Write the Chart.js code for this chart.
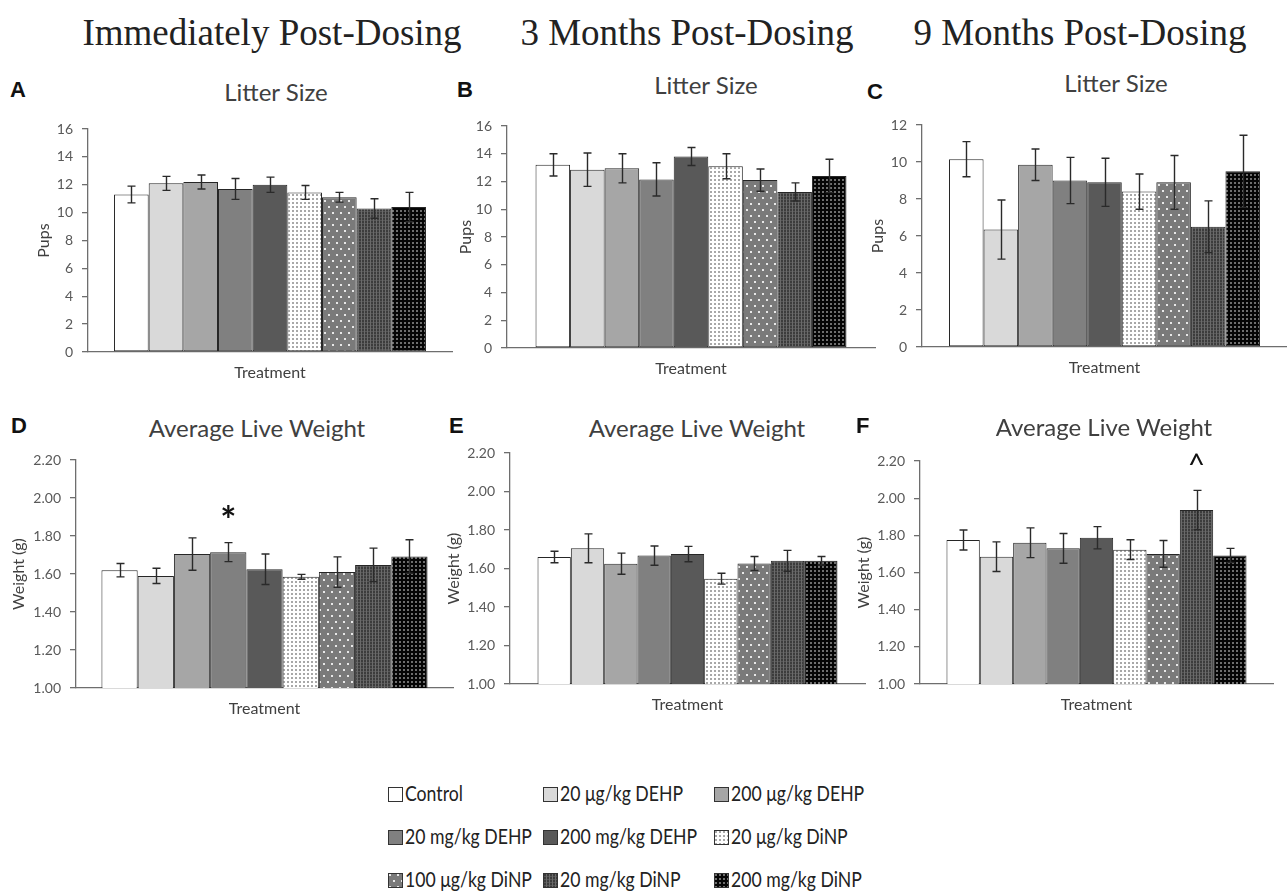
<!DOCTYPE html>
<html>
<head>
<meta charset="utf-8">
<script src="https://cdn.jsdelivr.net/npm/chart.js@4.4.1/dist/chart.umd.min.js"></script>
<style>
  body { margin: 0; background: #fff; width: 1287px; height: 894px; position: relative; overflow: hidden; font-family: Lato, sans-serif; }
  .head { position: absolute; top: 12px; font-family: 'Liberation Serif', serif; font-size: 37px; color: #222; transform: translateX(-50%); white-space: nowrap; line-height: 42px; }
  .letter { position: absolute; font-family: 'Liberation Sans', Arial, sans-serif; font-weight: bold; font-size: 22px; line-height: 22px; color: #111; }
  .ptitle { position: absolute; font-size: 24px; line-height: 24px; color: #404040; transform: translateX(-50%); white-space: nowrap; }
  canvas.chart { position: absolute; }
  .leg { position: absolute; display: flex; align-items: center; font-size: 21px; line-height: 30px; color: #222; white-space: nowrap; }
  .leg canvas { margin-right: 2px; margin-top: 2px; }
  .leg span { display: inline-block; transform: scaleX(0.84); transform-origin: left center; }
</style>
</head>
<body>
<div class="head" style="left:272px">Immediately Post-Dosing</div>
<div class="head" style="left:687px">3 Months Post-Dosing</div>
<div class="head" style="left:1080px">9 Months Post-Dosing</div>
<div id="panels"></div>
<div id="legend"></div>

<script>
// Treatment groups (one bar each, same order in every panel)
const treatments = [
  'Control', '20 μg/kg DEHP', '200 μg/kg DEHP',
  '20 mg/kg DEHP', '200 mg/kg DEHP', '20 μg/kg DiNP',
  '100 μg/kg DiNP', '20 mg/kg DiNP', '200 mg/kg DiNP'
];

// Litter size (pups), mean and error
const litterImmediate    = [11.3, 12.1, 12.2, 11.7, 12.0, 11.45, 11.1, 10.3, 10.4];
const litterImmediateErr = [0.6, 0.5, 0.5, 0.75, 0.55, 0.5, 0.35, 0.7, 1.05];
const litter3Months      = [13.2, 12.85, 12.95, 12.15, 13.8, 13.1, 12.1, 11.25, 12.4];
const litter3MonthsErr   = [0.8, 1.2, 1.05, 1.2, 0.65, 0.9, 0.8, 0.65, 1.2];
const litter9Months      = [10.15, 6.35, 9.85, 9.0, 8.9, 8.4, 8.9, 6.5, 9.5];
const litter9MonthsErr   = [0.95, 1.6, 0.85, 1.25, 1.3, 0.95, 1.45, 1.4, 1.95];

// Average live weight (g), mean and error
const weightImmediate    = [1.62, 1.59, 1.705, 1.715, 1.625, 1.585, 1.61, 1.648, 1.692];
const weightImmediateErr = [0.035, 0.04, 0.085, 0.05, 0.08, 0.013, 0.08, 0.088, 0.088];
const weight3Months      = [1.66, 1.705, 1.625, 1.667, 1.675, 1.547, 1.626, 1.64, 1.64];
const weight3MonthsErr   = [0.03, 0.075, 0.055, 0.05, 0.04, 0.028, 0.036, 0.054, 0.022];
const weight9Months      = [1.775, 1.685, 1.76, 1.73, 1.787, 1.723, 1.7, 1.936, 1.692];
const weight9MonthsErr   = [0.054, 0.08, 0.08, 0.08, 0.06, 0.053, 0.072, 0.106, 0.038];

// significance markers
const weightImmediateSig = ['', '', '', '*', '', '', '', '', ''];
const weight9MonthsSig   = ['', '', '', '', '', '', '', '^', ''];

// tick labels
const litterTicks16 = [0, 2, 4, 6, 8, 10, 12, 14, 16];
const litterTicks12 = [0, 2, 4, 6, 8, 10, 12];
const weightTicks   = [1.00, 1.20, 1.40, 1.60, 1.80, 2.00, 2.20];
const categoryLabel = ['Treatment'];

// fill style per treatment
const fills = ['#ffffff', '#d9d9d9', '#a6a6a6', '#808080', '#595959', 'dotsWhite', 'dotsGray', 'gridDark', 'dotsBlack'];

function makePattern(kind) {
  const c = document.createElement('canvas');
  const g = c.getContext('2d');
  if (kind === 'dotsWhite') {
    c.width = 4; c.height = 4;
    g.fillStyle = '#ffffff'; g.fillRect(0, 0, 4, 4);
    g.fillStyle = '#a8a8a8'; g.fillRect(1, 1, 2, 2);
  } else if (kind === 'dotsGray') {
    c.width = 8; c.height = 12;
    g.fillStyle = '#7a7a7a'; g.fillRect(0, 0, 8, 12);
    g.fillStyle = '#e8e8e8';
    g.fillRect(1, 1, 2, 2); g.fillRect(5, 7, 2, 2);
  } else if (kind === 'gridDark') {
    c.width = 3; c.height = 3;
    g.fillStyle = '#3c3c3c'; g.fillRect(0, 0, 3, 3);
    g.fillStyle = '#6a6a6a'; g.fillRect(0, 0, 1, 3);
    g.fillStyle = '#565656'; g.fillRect(1, 0, 2, 1);
  } else if (kind === 'dotsBlack') {
    c.width = 4; c.height = 4;
    g.fillStyle = '#050505'; g.fillRect(0, 0, 4, 4);
    g.fillStyle = '#6e6e6e'; g.fillRect(1, 1, 2, 2);
  }
  return g.createPattern(c, 'repeat');
}

function fillFor(i) {
  const f = fills[i];
  return f.charAt(0) === '#' ? f : makePattern(f);
}

// panel layout (pixel positions only)
const panels = [
  { letter: 'A', title: 'Litter Size', lx: 10, ly: 79, tx: 276, ty: 80, values: litterImmediate, errors: litterImmediateErr, ticks: litterTicks16, yTitle: 'Pups', x0: 31, plotL: 88, plotR: 452, plotT: 129, plotB: 352, cat: 0.857 },
  { letter: 'B', title: 'Litter Size', lx: 457, ly: 79, tx: 706, ty: 73, values: litter3Months, errors: litter3MonthsErr, ticks: litterTicks16, yTitle: 'Pups', x0: 453, plotL: 507, plotR: 875, plotT: 126, plotB: 348, cat: 0.845 },
  { letter: 'C', title: 'Litter Size', lx: 867, ly: 81, tx: 1116, ty: 71, values: litter9Months, errors: litter9MonthsErr, ticks: litterTicks12, yTitle: 'Pups', x0: 865, plotL: 922, plotR: 1287, plotT: 125, plotB: 347, cat: 0.852 },
  { letter: 'D', title: 'Average Live Weight', lx: 11, ly: 415, tx: 257, ty: 416, values: weightImmediate, errors: weightImmediateErr, ticks: weightTicks, yTitle: 'Weight (g)', sig: weightImmediateSig, x0: 6, plotL: 76, plotR: 453, plotT: 460, plotB: 688, cat: 0.865 },
  { letter: 'E', title: 'Average Live Weight', lx: 449, ly: 415, tx: 697, ty: 416, values: weight3Months, errors: weight3MonthsErr, ticks: weightTicks, yTitle: 'Weight (g)', x0: 441, plotL: 510, plotR: 865, plotT: 453, plotB: 684, cat: 0.845 },
  { letter: 'F', title: 'Average Live Weight', lx: 856, ly: 415, tx: 1104, ty: 415, values: weight9Months, errors: weight9MonthsErr, ticks: weightTicks, yTitle: 'Weight (g)', sig: weight9MonthsSig, x0: 851, plotL: 920, plotR: 1273, plotT: 461, plotB: 684, cat: 0.85 }
];

const errorBars = {
  id: 'errorBars',
  afterDatasetsDraw(chart) {
    const ctx = chart.ctx;
    const y = chart.scales.y;
    ctx.save();
    ctx.strokeStyle = '#2a2a2a';
    ctx.lineWidth = 1.4;
    chart.data.datasets.forEach((ds, i) => {
      const bar = chart.getDatasetMeta(i).data[0];
      const v = ds.data[0], e = ds.errors[0];
      const top = y.getPixelForValue(v + e);
      const bot = y.getPixelForValue(v - e);
      const x = Math.round(bar.x) + 0.5;
      ctx.beginPath();
      ctx.moveTo(x, top); ctx.lineTo(x, bot);
      ctx.moveTo(x - 4, top); ctx.lineTo(x + 4, top);
      ctx.moveTo(x - 4, bot); ctx.lineTo(x + 4, bot);
      ctx.stroke();
      if (ds.sig && ds.sig[0]) {
        const s = ds.sig[0];
        const size = s === '*' ? 38 : 30;
        ctx.fillStyle = '#111';
        ctx.font = (s === '*' ? 'bold ' : '') + size + 'px Lato';
        ctx.textAlign = 'center';
        ctx.textBaseline = 'alphabetic';
        ctx.fillText(s, bar.x, top - 32 + (s === '*' ? 0.62 : 0.6) * size);
      }
    });
    ctx.restore();
  }
};

const holder = document.getElementById('panels');

panels.forEach(p => {
  const letter = document.createElement('div');
  letter.className = 'letter';
  letter.style.left = p.lx + 'px'; letter.style.top = p.ly + 'px';
  letter.textContent = p.letter;
  holder.appendChild(letter);

  const title = document.createElement('div');
  title.className = 'ptitle';
  title.style.left = p.tx + 'px'; title.style.top = p.ty + 'px';
  title.textContent = p.title;
  holder.appendChild(title);

  const padTop = 20, xAxisH = 36;
  const canvas = document.createElement('canvas');
  canvas.className = 'chart';
  const w = Math.min(p.plotR + 2, 1287) - p.x0;
  const h = p.plotB - p.plotT + padTop + xAxisH;
  canvas.width = w; canvas.height = h;
  canvas.style.left = p.x0 + 'px';
  canvas.style.top = (p.plotT - padTop) + 'px';
  holder.appendChild(canvas);

  const datasets = treatments.map((name, i) => ({
    label: name,
    data: [p.values[i]],
    errors: [p.errors[i]],
    sig: p.sig ? [p.sig[i]] : null,
    backgroundColor: fillFor(i),
    borderColor: '#262626',
    borderWidth: 1,
    borderSkipped: false
  }));

  const tickVals = p.ticks;
  const isWeight = tickVals[0] === 1;

  new Chart(canvas, {
    type: 'bar',
    data: { labels: categoryLabel, datasets: datasets },
    options: {
      responsive: false,
      animation: false,
      devicePixelRatio: 1,
      categoryPercentage: p.cat,
      barPercentage: 1,
      layout: { padding: { top: padTop, left: 0, right: w - (p.plotR - p.x0), bottom: 0 } },
      plugins: { legend: { display: false }, tooltip: { enabled: false } },
      scales: {
        x: {
          grid: { display: false, drawTicks: false },
          border: { display: true, color: '#6e6e6e', width: 1.3 },
          ticks: { color: '#404040', font: { family: 'Lato', size: 16 }, padding: 11 },
          afterFit(scale) { scale.height = xAxisH; }
        },
        y: {
          min: tickVals[0],
          max: tickVals[tickVals.length - 1],
          grid: { display: true, drawOnChartArea: false, drawTicks: true, tickLength: 6, color: '#6e6e6e', lineWidth: 1.3 },
          border: { display: true, color: '#6e6e6e', width: 1.3 },
          ticks: {
            color: '#595959',
            font: { family: 'Lato', size: 14 },
            padding: 9,
            callback: v => isWeight ? Number(v).toFixed(2) : v
          },
          afterBuildTicks(scale) { scale.ticks = tickVals.map(v => ({ value: v })); },
          title: { display: true, text: p.yTitle, color: '#404040', font: { family: 'Lato', size: 16 }, padding: { top: 3, bottom: 3 } },
          afterFit(scale) { scale.width = p.plotL - p.x0; }
        }
      }
    },
    plugins: [errorBars]
  });
});

// legend, 3 x 3 grid
const legCols = [388, 543, 714];
const legRows = [793, 836, 879];
const legend = document.getElementById('legend');
treatments.forEach((name, i) => {
  const item = document.createElement('div');
  item.className = 'leg';
  item.style.left = legCols[i % 3] + 'px';
  item.style.top = (legRows[Math.floor(i / 3)] - 15) + 'px';
  const box = document.createElement('canvas');
  box.width = 15; box.height = 15;
  const g = box.getContext('2d');
  g.fillStyle = fillFor(i);
  g.fillRect(0, 0, 15, 15);
  g.strokeStyle = '#333';
  g.lineWidth = 1;
  g.strokeRect(0.5, 0.5, 14, 14);
  item.appendChild(box);
  const txt = document.createElement('span');
  txt.textContent = name;
  item.appendChild(txt);
  legend.appendChild(item);
});
</script>
</body>
</html>
